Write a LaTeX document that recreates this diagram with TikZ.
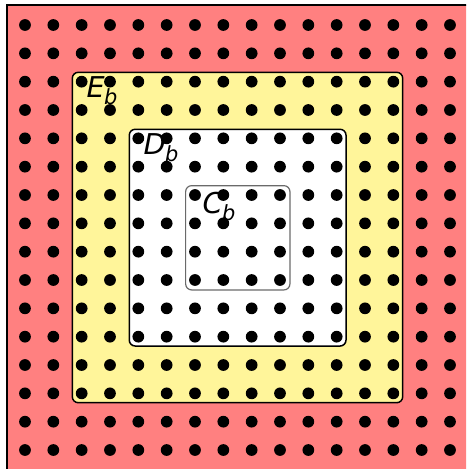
\documentclass[tikz,border=0pt]{standalone}
\usepackage{fontspec}
\newfontfamily\regionfont{DejaVu Sans}
\usetikzlibrary{positioning}
\definecolor{outerred}{HTML}{FF8080}
\definecolor{ringyellow}{HTML}{FFF59A}
\definecolor{coregray}{HTML}{6A6A6A}
\newcommand{\regionname}[2]{#1\kern-0.02em\raisebox{-0.45ex}{\fontsize{10.5}{12}\selectfont #2}}
\tikzset{
  outerbox/.style={fill=outerred, draw=black, line width=1pt},
  region/.style={draw=black, line width=0.75pt, rounded corners=3pt},
  ringbox/.style={region, fill=ringyellow},
  innerbox/.style={region, fill=white},
  corebox/.style={draw=coregray, line width=0.6pt, rounded corners=3pt},
  site/.style={fill=black},
  tag/.style={font=\regionfont\itshape\fontsize{14.4}{16}\selectfont, inner sep=0pt}
}

\begin{document}
\begin{tikzpicture}[x=0.5cm,y=0.5cm]
\useasboundingbox (-0.882,0.882) rectangle (15.565,-15.67);
\clip (-0.882,0.882) rectangle (15.565,-15.67);
% regions
\draw[outerbox] (-0.65,0.69) rectangle (17,-17);
\draw[ringbox] (1.67,-1.67) rectangle (13.33,-13.33);
\draw[innerbox] (3.68,-3.68) rectangle (11.33,-11.33);
\draw[corebox] (5.67,-5.67) rectangle (9.35,-9.35);
% lattice sites
\foreach \i in {0,...,15}
  \foreach \j in {0,...,15}
    \fill[site] (\i,-\j) circle (2.95pt);
% labels
\node[tag] (Eb) at (2.72,-2.33) {\regionname{E}{b}};
\node[tag] (Db) at (4.8,-4.34) {\regionname{D}{b}};
\node[tag] (Cb) at (6.85,-6.42) {\regionname{C}{b}};
\end{tikzpicture}
\end{document}
